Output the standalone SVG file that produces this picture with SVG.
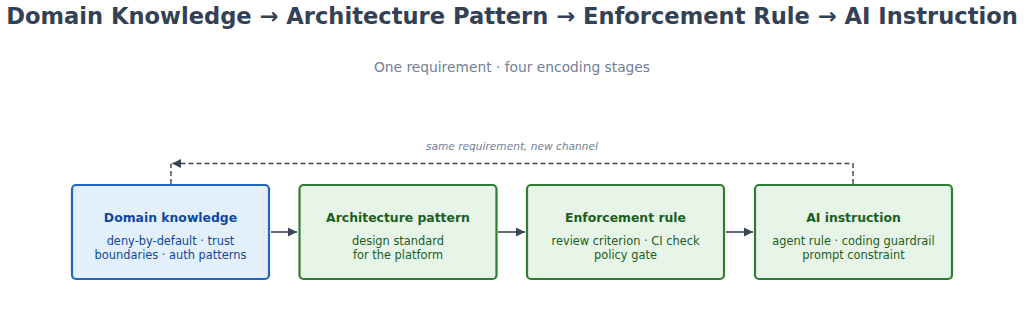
<svg xmlns="http://www.w3.org/2000/svg" width="1024" height="331" viewBox="0 0 1024 331">
<defs>
<style>
.title{font-family:"DejaVu Sans",sans-serif;font-weight:bold;font-size:22.6px;fill:#334155;text-anchor:middle}
.sub{font-family:"DejaVu Sans",sans-serif;font-size:13.8px;fill:#718096;text-anchor:middle}
.lbl{font-family:"DejaVu Sans",sans-serif;font-style:italic;font-size:10.6px;fill:#718096;text-anchor:middle}
.box{stroke-width:2.2}
.blue rect{fill:#e3f0fc;stroke:#1e68c4}
.green rect{fill:#e7f4e8;stroke:#2e7d32}
.h{font-family:"DejaVu Sans",sans-serif;font-weight:bold;font-size:12.4px;text-anchor:middle}
.t{font-family:"DejaVu Sans",sans-serif;font-size:11.4px;text-anchor:middle}
.blue text{fill:#0d47a1}
.green text{fill:#1b5e20}
.conn{fill:none;stroke:#3a4556;stroke-width:1.6}
.dash{fill:none;stroke:#3a4556;stroke-width:1.4;stroke-dasharray:5,3}
</style>
<marker id="ah" viewBox="0 0 10 10" refX="10" refY="5" markerWidth="9" markerHeight="9" markerUnits="userSpaceOnUse" orient="auto">
<path d="M0,0 L10,5 L0,10 z" fill="#3a4556"/>
</marker>
</defs>
<rect width="1024" height="331" fill="#ffffff"/>
<text class="title" x="512" y="24">Domain Knowledge → Architecture Pattern → Enforcement Rule → AI Instruction</text>
<text class="sub" x="512" y="72">One requirement · four encoding stages</text>
<g id="connectors">
<text class="lbl" x="512" y="150">same requirement, new channel</text>
<path class="dash" d="M853,184 V163.5 H172" marker-end="url(#ah)"/>
<path class="dash" d="M171,184 V163.5"/>
<path class="conn" d="M271,232 H297" marker-end="url(#ah)"/>
<path class="conn" d="M498,232 H525" marker-end="url(#ah)"/>
<path class="conn" d="M726,232 H753" marker-end="url(#ah)"/>
</g>
<g id="node-domain" class="blue">
<rect class="box" x="72" y="185" width="197" height="94" rx="4"/>
<text class="h" x="170.5" y="221.5">Domain knowledge</text>
<text class="t" x="170.5" y="245">deny-by-default · trust</text>
<text class="t" x="170.5" y="259">boundaries · auth patterns</text>
</g>
<g id="node-arch" class="green">
<rect class="box" x="299.5" y="185" width="197" height="94" rx="4"/>
<text class="h" x="398" y="221.5">Architecture pattern</text>
<text class="t" x="398" y="245">design standard</text>
<text class="t" x="398" y="259">for the platform</text>
</g>
<g id="node-enf" class="green">
<rect class="box" x="527" y="185" width="197" height="94" rx="4"/>
<text class="h" x="625.5" y="221.5">Enforcement rule</text>
<text class="t" x="625.5" y="245">review criterion · CI check</text>
<text class="t" x="625.5" y="259">policy gate</text>
</g>
<g id="node-ai" class="green">
<rect class="box" x="755" y="185" width="197" height="94" rx="4"/>
<text class="h" x="853.5" y="221.5">AI instruction</text>
<text class="t" x="853.5" y="245">agent rule · coding guardrail</text>
<text class="t" x="853.5" y="259">prompt constraint</text>
</g>
</svg>
